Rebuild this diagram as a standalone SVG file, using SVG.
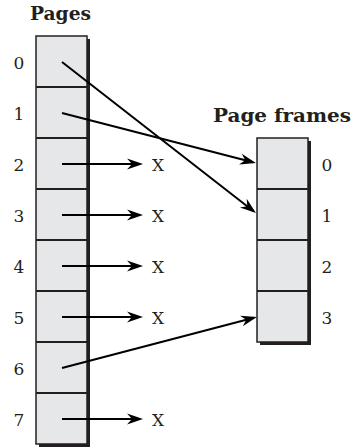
<svg xmlns="http://www.w3.org/2000/svg" width="352" height="447" viewBox="0 0 352 447">
<style>
.title{font-family:"DejaVu Serif","Liberation Serif",serif;font-weight:bold;font-size:19px;fill:#231f20}
.lbl{font-family:"DejaVu Serif","Liberation Serif",serif;font-size:17px;fill:#231f20;text-anchor:middle}
.shadow{fill:#231f20}
.box{fill:#e6e7e8;stroke:#231f20;stroke-width:1.5}
.div{stroke:#231f20;stroke-width:2}
.conn{stroke:#000;stroke-width:2;fill:none}
</style>
<defs>
<marker id="ah" markerUnits="userSpaceOnUse" markerWidth="20" markerHeight="14" viewBox="-17 -7 20 14" refX="0" refY="0" orient="auto">
<path d="M3,0 L-13,-5.5 L-8,0 L-13,5.5 Z" fill="#000"/>
</marker>
</defs>
<rect width="352" height="447" fill="#fff"/>
<g id="pages">
<text class="title" x="30" y="20" textLength="61" lengthAdjust="spacingAndGlyphs">Pages</text>
<rect class="shadow" x="39" y="39" width="51" height="408"/>
<rect class="box" x="36" y="36" width="51" height="408"/>
<g class="div">
<line x1="36" y1="87" x2="87" y2="87"/>
<line x1="36" y1="138" x2="87" y2="138"/>
<line x1="36" y1="189" x2="87" y2="189"/>
<line x1="36" y1="240" x2="87" y2="240"/>
<line x1="36" y1="291" x2="87" y2="291"/>
<line x1="36" y1="342" x2="87" y2="342"/>
<line x1="36" y1="393" x2="87" y2="393"/>
</g>
<text class="lbl" x="19" y="69">0</text>
<text class="lbl" x="19" y="120">1</text>
<text class="lbl" x="19" y="171">2</text>
<text class="lbl" x="19" y="222">3</text>
<text class="lbl" x="19" y="273">4</text>
<text class="lbl" x="19" y="324">5</text>
<text class="lbl" x="19" y="375">6</text>
<text class="lbl" x="19" y="426">7</text>
</g>
<g id="frames">
<text class="title" x="213" y="122" textLength="138" lengthAdjust="spacingAndGlyphs">Page frames</text>
<rect class="shadow" x="260" y="141" width="51" height="204"/>
<rect class="box" x="257" y="138" width="51" height="204"/>
<g class="div">
<line x1="257" y1="189" x2="308" y2="189"/>
<line x1="257" y1="240" x2="308" y2="240"/>
<line x1="257" y1="291" x2="308" y2="291"/>
</g>
<text class="lbl" x="327" y="171">0</text>
<text class="lbl" x="327" y="222">1</text>
<text class="lbl" x="327" y="273">2</text>
<text class="lbl" x="327" y="324">3</text>
</g>
<g id="invalid">
<text class="lbl" x="158" y="171">X</text>
<text class="lbl" x="158" y="222">X</text>
<text class="lbl" x="158" y="273">X</text>
<text class="lbl" x="158" y="324">X</text>
<text class="lbl" x="158" y="426">X</text>
</g>
<g id="connectors">
<line class="conn" x1="62" y1="62" x2="253.6" y2="211.2" marker-end="url(#ah)"/>
<line class="conn" x1="62" y1="113" x2="253" y2="162.3" marker-end="url(#ah)"/>
<line class="conn" x1="62" y1="368" x2="254" y2="317.7" marker-end="url(#ah)"/>
<line class="conn" x1="62" y1="164" x2="140" y2="164" marker-end="url(#ah)"/>
<line class="conn" x1="62" y1="215" x2="140" y2="215" marker-end="url(#ah)"/>
<line class="conn" x1="62" y1="266" x2="140" y2="266" marker-end="url(#ah)"/>
<line class="conn" x1="62" y1="317" x2="140" y2="317" marker-end="url(#ah)"/>
<line class="conn" x1="62" y1="419" x2="140" y2="419" marker-end="url(#ah)"/>
</g>
</svg>
